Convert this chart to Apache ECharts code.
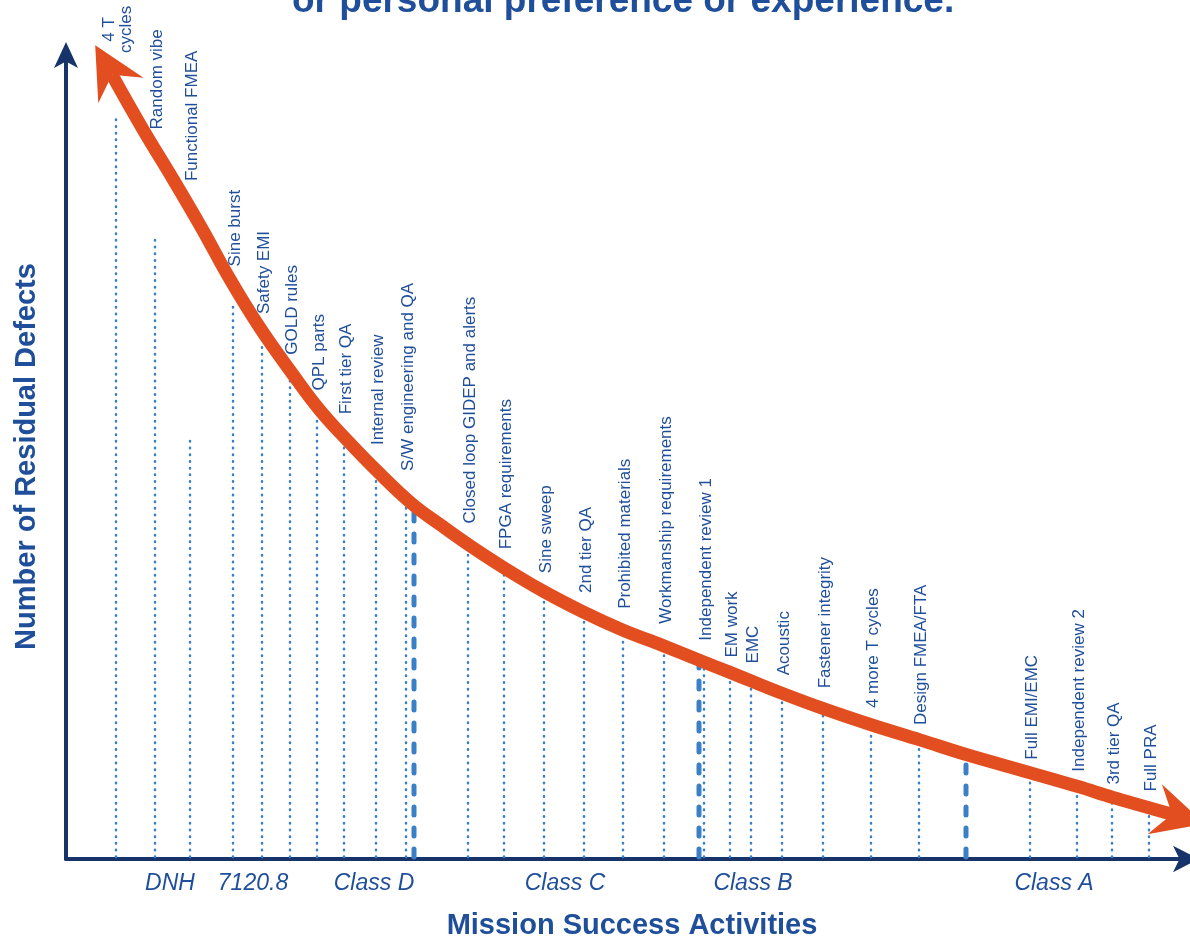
<!DOCTYPE html>
<html>
<head>
<meta charset="utf-8">
<script src="https://cdn.jsdelivr.net/npm/echarts@6/dist/echarts.min.js"></script>
<style>
html,body{margin:0;padding:0;background:#fff;overflow:hidden;}
#chart{width:1190px;height:945px;}
</style>
</head>
<body>
<div id="chart"></div>
<script>
// ---- Data (positions along the "mission success activities" axis, defect levels on the y scale) ----
const activities = [
  "4 T\ncycles", "Random vibe", "Functional FMEA", "Sine burst", "Safety EMI", "GOLD rules",
  "QPL parts", "First tier QA", "Internal review", "S/W engineering and QA",
  "Closed loop GIDEP and alerts", "FPGA requirements", "Sine sweep", "2nd tier QA",
  "Prohibited materials", "Workmanship requirements", "Independent review 1", "EM work",
  "EMC", "Acoustic", "Fastener integrity", "4 more T cycles", "Design FMEA/FTA",
  "Full EMI/EMC", "Independent review 2", "3rd tier QA", "Full PRA"
];
const activityX = [5.0, 8.9, 12.4, 16.7, 19.6, 22.4, 25.1, 27.8, 31.0, 34.0,
  40.2, 43.8, 47.8, 51.8, 55.7, 59.8, 63.8, 66.4, 68.5, 71.6, 75.7, 80.5, 85.3,
  96.4, 101.1, 104.6, 108.3];
const activityTop = [74.5, 62.5, 42.5, 56.2, 51.8, 48.5, 45.2, 42.5, 38.3, 35.7,
  31.0, 29.0, 26.3, 24.3, 22.5, 21.0, 19.5, 18.3, 17.5, 16.2, 14.8, 13.0, 11.5,
  8.2, 6.5, 5.7, 4.7];
const labelBase = [81.2, 73.5, 68.3, 59.7, 54.9, 50.8, 47.2, 44.8, 41.7, 39.1,
  33.8, 31.2, 28.8, 26.8, 25.2, 23.7, 22.0, 20.3, 19.7, 18.5, 17.2, 15.2, 13.5,
  10.0, 8.8, 7.5, 6.8];

const classNames = ["DNH", "7120.8", "Class D", "Class C", "Class B", "Class A"];
const classX = [10.4, 18.7, 30.8, 49.9, 68.7, 98.8];
const classLabelY = -2.5;

const boundaryX = [34.8, 63.3, 90.0];
const boundaryTop = [35.5, 20.3, 10.7];

const curveX = [4.6, 7.7, 10.7, 13.6, 16.4, 19.4, 22.7, 25.4, 28.1, 31.1, 34.7, 37.4,
  40.2, 43.7, 47.7, 51.7, 55.6, 59.7, 63.4, 66.4, 68.6, 71.6, 75.6, 80.6, 85.4, 90.1,
  96.4, 101.2, 104.7, 108.2, 110.6];
const curveY = [79.0, 73.5, 68.5, 63.5, 58.4, 53.5, 48.8, 45.2, 42.2, 39.1, 35.7, 33.7,
  31.7, 29.4, 27.0, 24.9, 23.1, 21.5, 20.0, 18.8, 17.9, 16.7, 15.2, 13.5, 12.0, 10.5,
  8.7, 7.3, 6.2, 5.2, 4.5];

const titleText = "or personal preference or experience.";
const xName = "Mission Success Activities";
const yName = "Number of Residual Defects";

// ---- Styles ----
const NAVY = '#16336a';
const TEXT_BLUE = '#1f4e9a';
const DOT_BLUE = '#3b80c7';
const ORANGE = '#e24e1f';
const FONT = '"Liberation Sans", Arial, sans-serif';
const LABEL_FONT = '17px ' + FONT;

const measureCtx = document.createElement('canvas').getContext('2d');
measureCtx.font = LABEL_FONT;
function labelWidth(t) {
  return Math.max.apply(null, t.split('\n').map(s => measureCtx.measureText(s).width));
}

const chart = echarts.init(document.getElementById('chart'), null, {renderer: 'canvas'});

const option = {
  animation: false,
  backgroundColor: '#ffffff',
  title: {
    text: titleText,
    left: 287,
    top: -22,
    textStyle: {fontSize: 37, fontWeight: 'bold', color: TEXT_BLUE, fontFamily: FONT}
  },
  grid: {left: 66, right: 6, top: 54, bottom: 80, containLabel: false},
  xAxis: {
    type: 'value', min: 0, max: 111.8,
    axisLine: {show: true, lineStyle: {color: NAVY, width: 4}, symbol: ['none', 'arrow'],
      symbolSize: [20, 26], symbolOffset: [0, 15]},
    axisTick: {show: false}, axisLabel: {show: false}, splitLine: {show: false},
    name: xName, nameLocation: 'middle', nameGap: 52,
    nameTextStyle: {fontSize: 29, fontWeight: 'bold', color: TEXT_BLUE, fontFamily: FONT, padding: [0, 0, 0, 14]}
  },
  yAxis: {
    type: 'value', min: 0, max: 81.1,
    axisLine: {show: true, lineStyle: {color: NAVY, width: 4}, symbol: ['none', 'arrow'],
      symbolSize: [18, 26], symbolOffset: [0, 12]},
    axisTick: {show: false}, axisLabel: {show: false}, splitLine: {show: false},
    name: yName, nameLocation: 'middle', nameGap: 25, nameRotate: 90,
    nameTextStyle: {fontSize: 29, fontWeight: 'bold', color: TEXT_BLUE, fontFamily: FONT}
  },
  series: [
    {
      type: 'custom',
      z: 2,
      data: activities.map((n, i) => ({name: n, value: [activityX[i], activityTop[i], labelBase[i]]})),
      renderItem: function (params, api) {
        const x = api.value(0), top = api.value(1), lb = api.value(2);
        const p0 = api.coord([x, 0]);
        const p1 = api.coord([x, top]);
        const pl = api.coord([x, lb]);
        const txt = activities[params.dataIndex];
        const w = labelWidth(txt);
        return {
          type: 'group',
          children: [
            {type: 'line', shape: {x1: p0[0], y1: p0[1] - 2, x2: p1[0], y2: p1[1]},
              style: {stroke: DOT_BLUE, lineWidth: 2.5, lineDash: [0.5, 6.2], lineCap: 'round'}, z2: 1},
            {type: 'text', x: pl[0] + 2, y: pl[1] - w / 2, rotation: Math.PI / 2, z2: 30,
              style: {text: txt, fill: TEXT_BLUE, font: LABEL_FONT,
                align: 'center', verticalAlign: 'middle', lineHeight: 17}}
          ]
        };
      }
    },
    {
      type: 'custom',
      z: 3,
      data: boundaryX.map((x, i) => [x, boundaryTop[i]]),
      renderItem: function (params, api) {
        const p0 = api.coord([api.value(0), 0]);
        const p1 = api.coord([api.value(0), api.value(1)]);
        return {type: 'line', shape: {x1: p0[0], y1: p0[1] - 2, x2: p1[0], y2: p1[1]},
          style: {stroke: DOT_BLUE, lineWidth: 5, lineDash: [8, 13], lineCap: 'round'}};
      }
    },
    {
      type: 'line',
      z: 5,
      smooth: 0.4,
      symbol: 'none',
      clip: false,
      data: curveX.map((x, i) => [x, curveY[i]]),
      lineStyle: {color: ORANGE, width: 13, cap: 'butt', join: 'round'}
    },
    {
      type: 'custom',
      z: 6,
      data: [[0], [1]],
      renderItem: function (params, api) {
        const n = curveX.length;
        const a = params.dataIndex === 0 ? 0 : n - 1;
        const b = params.dataIndex === 0 ? 1 : n - 2;
        const N = api.coord([curveX[a], curveY[a]]);
        const P = api.coord([curveX[b], curveY[b]]);
        let dx = N[0] - P[0], dy = N[1] - P[1];
        const len = Math.sqrt(dx * dx + dy * dy);
        dx /= len; dy /= len;
        const nx = -dy, ny = dx;
        const T = [N[0] + dx * 34, N[1] + dy * 34];
        const B = [T[0] - dx * 52, T[1] - dy * 52];
        const c1 = [B[0] + nx * 26, B[1] + ny * 26];
        const c2 = [B[0] - nx * 26, B[1] - ny * 26];
        return {type: 'polygon', shape: {points: [T, c1, N, c2]}, style: {fill: ORANGE}};
      }
    },
    {
      type: 'custom',
      z: 7,
      data: classNames.map((n, i) => [classX[i], classLabelY]),
      renderItem: function (params, api) {
        const p = api.coord([api.value(0), api.value(1)]);
        return {type: 'text', x: p[0], y: p[1],
          style: {text: classNames[params.dataIndex], fill: TEXT_BLUE, font: 'italic 23px ' + FONT,
            align: 'center', verticalAlign: 'middle'}};
      }
    }
  ]
};
chart.setOption(option);
</script>
</body>
</html>
